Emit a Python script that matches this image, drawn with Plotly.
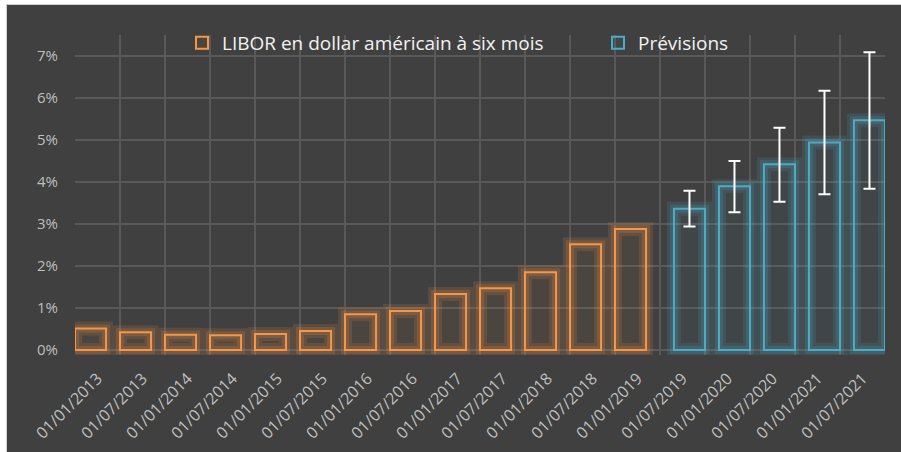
import plotly.graph_objects as go

dates = ["01/01/2013", "01/07/2013", "01/01/2014", "01/07/2014", "01/01/2015", "01/07/2015",
         "01/01/2016", "01/07/2016", "01/01/2017", "01/07/2017", "01/01/2018", "01/07/2018",
         "01/01/2019", "01/07/2019", "01/01/2020", "01/07/2020", "01/01/2021", "01/07/2021"]
libor = [0.0051, 0.0042, 0.0036, 0.0035, 0.0038, 0.0045, 0.0085, 0.0093, 0.0133,
         0.0147, 0.0185, 0.0252, 0.0288, None, None, None, None, None]
prev = [None] * 13 + [0.0336, 0.0390, 0.0442, 0.0494, 0.0547]
prev_high = [None] * 13 + [0.0379, 0.0450, 0.0529, 0.0617, 0.0709]
prev_low = [None] * 13 + [0.0294, 0.0328, 0.0353, 0.0371, 0.0384]
y_ticks = [0, 0.01, 0.02, 0.03, 0.04, 0.05, 0.06, 0.07]

ORANGE = "#F79646"
BLUE = "#4BACC6"
W = 0.69
FONT = "Open Sans"

err_plus = [None if v is None else h - v for v, h in zip(prev, prev_high)]
err_minus = [None if v is None else v - l for v, l in zip(prev, prev_low)]

fig = go.Figure()

def add_series(vals, color, rgb, offset, name, err=None, legendwidth=None):
    # glow layers
    for lw, a in [(14, 0.14), (8, 0.18)]:
        fig.add_trace(go.Bar(x=dates, y=vals, width=W, offset=offset,
                             marker=dict(color="rgba(0,0,0,0)",
                                         line=dict(color=f"rgba({rgb},{a})", width=lw)),
                             showlegend=False, hoverinfo="skip"))
    kw = {}
    if err is not None:
        kw["error_y"] = dict(type="data", symmetric=False, array=err[0], arrayminus=err[1],
                             color="#FFFFFF", thickness=2, width=6)
    if legendwidth is not None:
        kw["legendwidth"] = legendwidth
    fig.add_trace(go.Bar(x=dates, y=vals, width=W, offset=offset, name=name,
                         marker=dict(color=f"rgba({rgb},0.06)", line=dict(color=color, width=2)),
                         **kw))

add_series(libor, ORANGE, "247,150,70", -0.5, "LIBOR en dollar américain à six mois", legendwidth=371)
add_series(prev, BLUE, "75,172,198", 0.5 - W, "Prévisions", err=(err_plus, err_minus))

# plot area geometry in pixels
L, R, T, B = 75, 16, 35, 97
PW = 901 - L - R
PH = 452 - T - B
def px(x):
    return (x - L) / PW
def py(y):
    return (452 - B - y) / PH

fig.add_shape(type="rect", xref="paper", yref="paper", x0=px(0), x1=px(901), y0=py(4.5), y1=py(-5),
              fillcolor="white", line=dict(width=0), layer="above")
fig.add_shape(type="rect", xref="paper", yref="paper", x0=px(-5), x1=px(6), y0=py(460), y1=py(-5),
              fillcolor="white", line=dict(width=0), layer="above")
fig.add_shape(type="rect", xref="paper", yref="paper", x0=px(6.5), x1=px(910), y0=py(460), y1=py(4.5),
              fillcolor="rgba(0,0,0,0)", line=dict(color="#D0D0D0", width=1), layer="above")

fig.update_layout(
    width=901, height=452,
    margin=dict(l=L, r=R, t=T, b=B),
    paper_bgcolor="#404040", plot_bgcolor="#404040",
    barmode="overlay",
    font=dict(family=FONT, color="#BFBFBF", size=15),
    showlegend=True,
    legend=dict(orientation="h", x=px(182), xanchor="left", y=py(43), yanchor="middle",
                font=dict(family=FONT, size=19, color="#F2F2F2"), bgcolor="rgba(0,0,0,0)",
                itemclick=False),
    xaxis=dict(type="category", tickson="boundaries", showgrid=True, gridcolor="#595959", gridwidth=1.5,
               tickangle=-45, ticks="", ticklabelstandoff=10, showline=False, zeroline=False,
               automargin=False, tickfont=dict(family=FONT, size=16, color="#BFBFBF")),
    yaxis=dict(range=[-0.0012, 0.075], tickvals=y_ticks,
               tickformat=".0%", showgrid=True, gridcolor="#595959", gridwidth=1.5,
               zeroline=False, showline=False, ticks="", ticklabelstandoff=16,
               automargin=False, tickfont=dict(family=FONT, size=15, color="#BFBFBF")),
)

fig.write_html("out.html", config={"displayModeBar": False},
               post_script="document.body.style.margin='0';document.body.style.overflow='hidden';")
